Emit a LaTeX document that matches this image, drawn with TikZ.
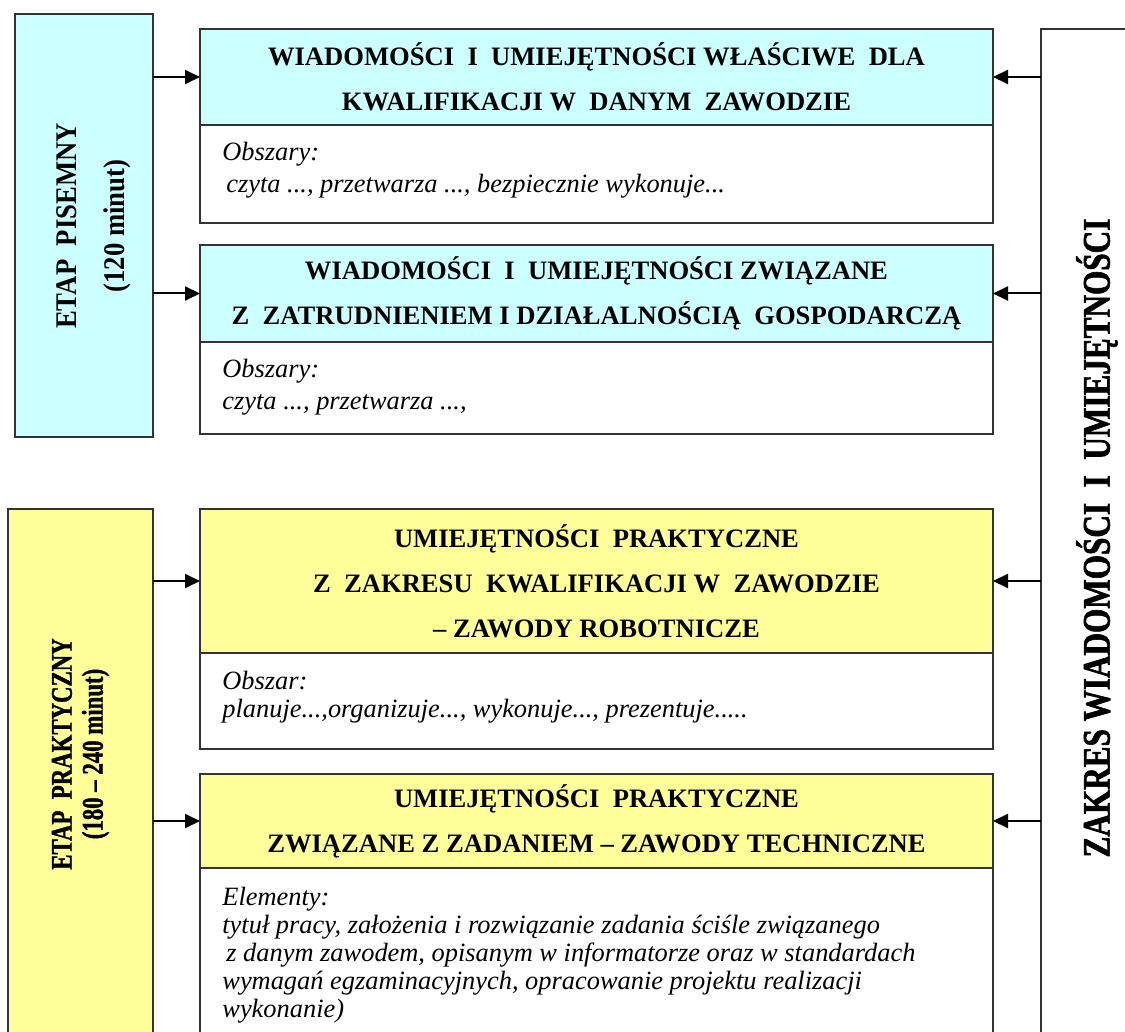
\documentclass[tikz,border=0pt]{standalone}
\usepackage{fontspec}
\setmainfont{Liberation Serif}
\newfontfamily\pisfont[FakeStretch=0.89]{Liberation Serif Bold}
\newfontfamily\prakfont[FakeStretch=0.76,FakeBold=1.2]{Liberation Serif Bold}
\newfontfamily\zakfont[FakeStretch=0.8,FakeBold=1.6]{Liberation Serif Bold}
\usetikzlibrary{arrows.meta,positioning}
\definecolor{cyanbg}{HTML}{CCFFFF}
\definecolor{yellowbg}{HTML}{FFFF99}

\begin{document}
\begin{tikzpicture}[x=0.5pt,y=-0.5pt,
    box/.style={rectangle,draw=black!80,line width=1pt,inner sep=0pt,outer sep=0pt},
    head/.style={box,minimum width=396.5pt,anchor=north west,align=center,
      font=\fontsize{13.3}{22.5}\selectfont\bfseries},
    body/.style={box,fill=white,minimum width=396.5pt},
    txt/.style={anchor=north west,inner sep=0pt,align=left,
      font=\fontsize{13.2}{16}\selectfont\itshape},
    arr/.style={-{Triangle[length=7.5pt,width=7pt]},line width=1pt}]
   \useasboundingbox (0,0) rectangle (1125,1032);
   \clip (0,0) rectangle (1125,1032);
   % etapy
   \node[box,fill=cyanbg,minimum width=69pt,minimum height=211.5pt,anchor=north west] (pis) at (15,14) {};
   \node[box,fill=yellowbg,minimum width=72.5pt,minimum height=300pt,anchor=north west] (prak) at (8,509) {};
   \node[box,minimum width=100pt,minimum height=600pt,anchor=north west] (zak) at (1041,29) {};
   \node[rotate=90,align=center,font=\pisfont\fontsize{15}{24}\selectfont] (pistxt) at (94,226)
      {ETAP\ \ PISEMNY\\(120 minut)};
   \node[rotate=90,align=center,font=\prakfont\fontsize{15}{15.5}\selectfont] (praktxt) at (80.5,754)
      {ETAP\ \ PRAKTYCZNY\\(180 – 240 minut)};
   \node[rotate=90,font=\zakfont\fontsize{19.5}{22}\selectfont] (zaktxt) at (1097,538)
      {ZAKRES WIADOMOŚCI\ \ I\ \ UMIEJĘTNOŚCI};
   % bloki
   \node[head,fill=cyanbg,minimum height=48pt] (h1) at (200,29)
      {WIADOMOŚCI\ \ I\ \ UMIEJĘTNOŚCI WŁAŚCIWE\ \ DLA\\KWALIFIKACJI W\ \ DANYM\ \ ZAWODZIE};
   \node[body,minimum height=49pt,below=0pt of h1] (b1) {};
   \node[head,fill=cyanbg,minimum height=48.5pt] (h2) at (200,245)
      {WIADOMOŚCI\ \ I\ \ UMIEJĘTNOŚCI ZWIĄZANE\\Z\ \ ZATRUDNIENIEM I DZIAŁALNOŚCIĄ\ \ GOSPODARCZĄ};
   \node[body,minimum height=46pt,below=0pt of h2] (b2) {};
   \node[head,fill=yellowbg,minimum height=72pt] (h3) at (200,509)
      {UMIEJĘTNOŚCI\ \ PRAKTYCZNE\\Z\ \ ZAKRESU\ \ KWALIFIKACJI W\ \ ZAWODZIE\\– ZAWODY ROBOTNICZE};
   \node[body,minimum height=48pt,below=0pt of h3] (b3) {};
   \node[head,fill=yellowbg,minimum height=47pt] (h4) at (200,774)
      {UMIEJĘTNOŚCI\ \ PRAKTYCZNE\\ZWIĄZANE Z ZADANIEM – ZAWODY TECHNICZNE};
   \node[body,minimum height=100pt,below=0pt of h4] (b4) {};
   % opisy
   \node[txt] (t1) at ([xshift=11pt,yshift=-8.5pt]b1.north west)
      {Obszary:\\\hspace*{2pt}czyta ..., przetwarza ..., bezpiecznie wykonuje...};
   \node[txt] (t2) at ([xshift=11pt,yshift=-8.5pt]b2.north west)
      {Obszary:\\czyta ..., przetwarza ...,};
   \node[txt,font=\fontsize{13.2}{14}\selectfont\itshape] (t3) at ([xshift=11pt,yshift=-9pt]b3.north west)
      {Obszar:\\planuje...,organizuje..., wykonuje..., prezentuje.....};
   \node[txt,font=\fontsize{13.2}{14}\selectfont\itshape] (t4) at ([xshift=11pt,yshift=-9.5pt]b4.north west)
      {Elementy:\\tytuł pracy, założenia i rozwiązanie zadania ściśle związanego\\
       \hspace*{2pt}z danym zawodem, opisanym w informatorze oraz w standardach\\
       wymagań egzaminacyjnych, opracowanie projektu realizacji\\wykonanie)};
   % strzalki
   \foreach \h in {h1,h2} {
     \draw[arr] (pis.east |- \h.west) -- (\h.west);
     \draw[arr] (zak.west |- \h.east) -- (\h.east);
   }
   \foreach \h in {h3,h4} {
     \draw[arr] (prak.east |- \h.west) -- (\h.west);
     \draw[arr] (zak.west |- \h.east) -- (\h.east);
   }
\end{tikzpicture}
\end{document}
